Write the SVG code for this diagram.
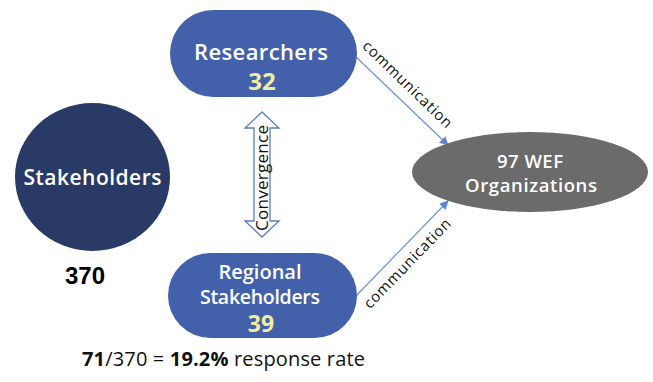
<svg xmlns="http://www.w3.org/2000/svg" width="653" height="382" viewBox="0 0 653 382">
<defs>
<style>
.t{font-family:"Open Sans","DejaVu Sans",sans-serif;text-anchor:middle}
.w{fill:#ffffff;font-weight:600}
.y{fill:#f2eca0;font-weight:700}
.lbl{font-family:"Open Sans","DejaVu Sans",sans-serif;fill:#111}
.conn{stroke:#6d93d6;stroke-width:1.2;fill:none}
.pill{fill:#4261aa}
</style>
<marker id="ah" viewBox="0 0 10 10" refX="9" refY="5" markerWidth="9" markerHeight="9" orient="auto" markerUnits="userSpaceOnUse">
<path d="M0,0 L10,5 L0,10 z" fill="#5a85d6"/>
</marker>
</defs>
<rect width="653" height="382" fill="#ffffff"/>
<g id="connectors">
<line class="conn" x1="355" y1="56" x2="448" y2="145" marker-end="url(#ah)"/>
<line class="conn" x1="355" y1="297" x2="448" y2="201" marker-end="url(#ah)"/>
<text class="lbl" font-size="15" text-anchor="middle" textLength="118" lengthAdjust="spacing" transform="translate(404,88) rotate(44)">communication</text>
<text class="lbl" font-size="15" text-anchor="middle" textLength="118" lengthAdjust="spacing" transform="translate(411,267) rotate(-46)">communication</text>
<g id="convergence">
<path d="M262,112 L279,128 L270,128 L270,221 L279,221 L262,237 L245,221 L254,221 L254,128 L245,128 Z" fill="#ffffff" stroke="#5a7dc0" stroke-width="1.3"/>
<text class="lbl" font-size="17" text-anchor="middle" textLength="106" lengthAdjust="spacing" transform="translate(268,178) rotate(-90)">Convergence</text>
</g>
</g>
<g id="stakeholders">
<ellipse cx="92.5" cy="177" rx="77.5" ry="74" fill="#2a3a66"/>
<text class="t w" x="92.5" y="185" font-size="21" textLength="138" lengthAdjust="spacing">Stakeholders</text>
<text x="85" y="284" font-family="Liberation Sans,Arial,sans-serif" font-weight="700" font-size="24" text-anchor="middle" fill="#000">370</text>
</g>
<g id="researchers">
<rect class="pill" x="170" y="10" width="187" height="87" rx="43.5"/>
<text class="t w" x="261" y="60" font-size="22" textLength="134" lengthAdjust="spacing">Researchers</text>
<text class="t y" x="262" y="90" font-size="24">32</text>
</g>
<g id="regional">
<rect class="pill" x="168" y="253" width="189" height="85" rx="42.5"/>
<text class="t w" x="260" y="279" font-size="20">Regional</text>
<text class="t w" x="260" y="304" font-size="19.5" textLength="120" lengthAdjust="spacing">Stakeholders</text>
<text class="t y" x="261" y="332" font-size="23">39</text>
</g>
<g id="wef">
<ellipse cx="530" cy="172" rx="118" ry="40" fill="#6b6b6b"/>
<text class="t w" x="530" y="168" font-size="18.5" textLength="66" lengthAdjust="spacing">97 WEF</text>
<text class="t w" x="531" y="192" font-size="18.5" textLength="132" lengthAdjust="spacing">Organizations</text>
</g>
<text x="82" y="366" font-family="Open Sans,DejaVu Sans,sans-serif" font-size="20" fill="#111" textLength="283" lengthAdjust="spacing"><tspan font-weight="700">71</tspan>/370 = <tspan font-weight="700">19.2%</tspan> response rate</text>
</svg>
